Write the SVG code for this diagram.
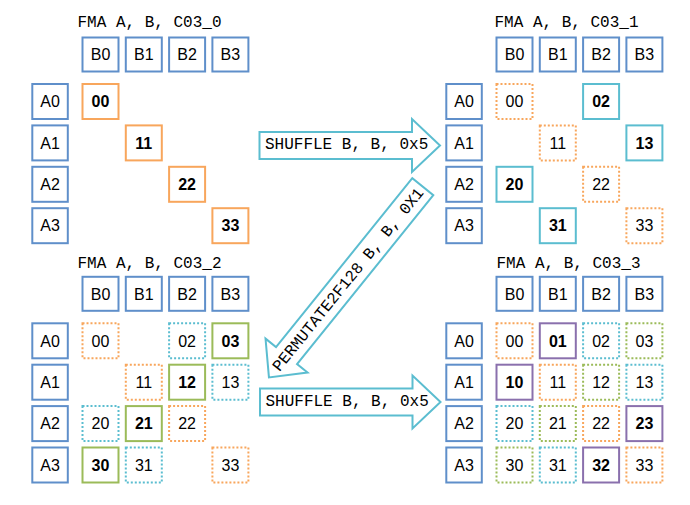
<svg xmlns="http://www.w3.org/2000/svg" width="690" height="505" viewBox="0 0 690 505">
<style>
rect{fill:#fff;stroke-width:2}
.h{stroke:#5f8fca}
.so{stroke:#f8a65c}
.do{stroke:#f8a65c;stroke-dasharray:2 2}
.sc{stroke:#5bbdd0}
.dc{stroke:#5bbdd0;stroke-dasharray:2 2}
.sg{stroke:#9bbb59}
.dg{stroke:#9bbb59;stroke-dasharray:2 2}
.sp{stroke:#8a70ad}
text{font-family:"Liberation Sans",Arial,sans-serif;font-size:16px;fill:#000;text-anchor:middle}
.b{font-weight:bold}
.m{font-family:"Liberation Mono","Courier New",monospace;font-size:16px;text-anchor:start}
.arr{fill:#fff;stroke:#5bbdd0;stroke-width:2;stroke-linejoin:miter}
</style>
<defs>
<path id="harrow" d="M0,-13.5 H152.5 V-26.5 L180.5,0 L152.5,26.5 V13.5 H0 Z"/>
</defs>

<g id="titles">
<text class="m" x="77.5" y="27.3">FMA A, B, C03_0</text>
<text class="m" x="494.5" y="27.3">FMA A, B, C03_1</text>
<text class="m" x="77.5" y="268.3">FMA A, B, C03_2</text>
<text class="m" x="496.5" y="268.3">FMA A, B, C03_3</text>
</g>

<g id="connectors">
<g id="shuffle1"><use href="#harrow" class="arr" transform="translate(259.5,145.5)"/><text class="m" x="265" y="149">SHUFFLE B, B, 0x5</text></g>
<g id="permute"><path class="arr" d="M0,-13.5 H217 V-27 L245,0 L217,27 V13.5 H0 Z" transform="translate(422.8,186.7) rotate(128.9)"/><text class="m" style="text-anchor:middle" transform="translate(348,279.5) rotate(-51.1)" x="0" y="5">PERMUTATE2F128 B, B, 0X1</text></g>
<g id="shuffle2"><use href="#harrow" class="arr" transform="translate(260,402)"/><text class="m" x="265.5" y="405.5">SHUFFLE B, B, 0x5</text></g>
</g>

<!-- Grid 0 -->
<g id="g0_B0"><rect class="h" x="82.5" y="37.5" width="36" height="34"/><text x="100.5" y="60.2">B0</text></g>
<g id="g0_B1"><rect class="h" x="125.8" y="37.5" width="36" height="34"/><text x="143.8" y="60.2">B1</text></g>
<g id="g0_B2"><rect class="h" x="169.1" y="37.5" width="36" height="34"/><text x="187.1" y="60.2">B2</text></g>
<g id="g0_B3"><rect class="h" x="212.4" y="37.5" width="36" height="34"/><text x="230.4" y="60.2">B3</text></g>
<g id="g0_A0"><rect class="h" x="32.3" y="84" width="35.5" height="35"/><text x="50" y="107.2">A0</text></g>
<g id="g0_A1"><rect class="h" x="32.3" y="125.4" width="35.5" height="35"/><text x="50" y="148.6">A1</text></g>
<g id="g0_A2"><rect class="h" x="32.3" y="166.8" width="35.5" height="35"/><text x="50" y="190">A2</text></g>
<g id="g0_A3"><rect class="h" x="32.3" y="208.2" width="35.5" height="35"/><text x="50" y="231.4">A3</text></g>
<g id="g0_00"><rect class="so" x="82.5" y="84" width="36" height="35"/><text class="b" x="100.5" y="107.2">00</text></g>
<g id="g0_11"><rect class="so" x="125.8" y="125.4" width="36" height="35"/><text class="b" x="143.8" y="148.6">11</text></g>
<g id="g0_22"><rect class="so" x="169.1" y="166.8" width="36" height="35"/><text class="b" x="187.1" y="190">22</text></g>
<g id="g0_33"><rect class="so" x="212.4" y="208.2" width="36" height="35"/><text class="b" x="230.4" y="231.4">33</text></g>

<!-- Grid 1 -->
<g id="g1_B0"><rect class="h" x="496.5" y="37.5" width="36" height="34"/><text x="514.5" y="60.2">B0</text></g>
<g id="g1_B1"><rect class="h" x="539.8" y="37.5" width="36" height="34"/><text x="557.8" y="60.2">B1</text></g>
<g id="g1_B2"><rect class="h" x="583.1" y="37.5" width="36" height="34"/><text x="601.1" y="60.2">B2</text></g>
<g id="g1_B3"><rect class="h" x="626.4" y="37.5" width="36" height="34"/><text x="644.4" y="60.2">B3</text></g>
<g id="g1_A0"><rect class="h" x="446.3" y="84" width="35.5" height="35"/><text x="464" y="107.2">A0</text></g>
<g id="g1_A1"><rect class="h" x="446.3" y="125.4" width="35.5" height="35"/><text x="464" y="148.6">A1</text></g>
<g id="g1_A2"><rect class="h" x="446.3" y="166.8" width="35.5" height="35"/><text x="464" y="190">A2</text></g>
<g id="g1_A3"><rect class="h" x="446.3" y="208.2" width="35.5" height="35"/><text x="464" y="231.4">A3</text></g>
<g id="g1_00"><rect class="do" x="496.5" y="84" width="36" height="35"/><text x="514.5" y="107.2">00</text></g>
<g id="g1_02"><rect class="sc" x="583.1" y="84" width="36" height="35"/><text class="b" x="601.1" y="107.2">02</text></g>
<g id="g1_11"><rect class="do" x="539.8" y="125.4" width="36" height="35"/><text x="557.8" y="148.6">11</text></g>
<g id="g1_13"><rect class="sc" x="626.4" y="125.4" width="36" height="35"/><text class="b" x="644.4" y="148.6">13</text></g>
<g id="g1_20"><rect class="sc" x="496.5" y="166.8" width="36" height="35"/><text class="b" x="514.5" y="190">20</text></g>
<g id="g1_22"><rect class="do" x="583.1" y="166.8" width="36" height="35"/><text x="601.1" y="190">22</text></g>
<g id="g1_31"><rect class="sc" x="539.8" y="208.2" width="36" height="35"/><text class="b" x="557.8" y="231.4">31</text></g>
<g id="g1_33"><rect class="do" x="626.4" y="208.2" width="36" height="35"/><text x="644.4" y="231.4">33</text></g>

<!-- Grid 2 -->
<g id="g2_B0"><rect class="h" x="82.5" y="276.8" width="36" height="34"/><text x="100.5" y="299.5">B0</text></g>
<g id="g2_B1"><rect class="h" x="125.8" y="276.8" width="36" height="34"/><text x="143.8" y="299.5">B1</text></g>
<g id="g2_B2"><rect class="h" x="169.1" y="276.8" width="36" height="34"/><text x="187.1" y="299.5">B2</text></g>
<g id="g2_B3"><rect class="h" x="212.4" y="276.8" width="36" height="34"/><text x="230.4" y="299.5">B3</text></g>
<g id="g2_A0"><rect class="h" x="32.3" y="323.3" width="35.5" height="35"/><text x="50" y="346.5">A0</text></g>
<g id="g2_A1"><rect class="h" x="32.3" y="364.7" width="35.5" height="35"/><text x="50" y="387.9">A1</text></g>
<g id="g2_A2"><rect class="h" x="32.3" y="406.1" width="35.5" height="35"/><text x="50" y="429.3">A2</text></g>
<g id="g2_A3"><rect class="h" x="32.3" y="447.5" width="35.5" height="35"/><text x="50" y="470.7">A3</text></g>
<g id="g2_00"><rect class="do" x="82.5" y="323.3" width="36" height="35"/><text x="100.5" y="346.5">00</text></g>
<g id="g2_02"><rect class="dc" x="169.1" y="323.3" width="36" height="35"/><text x="187.1" y="346.5">02</text></g>
<g id="g2_03"><rect class="sg" x="212.4" y="323.3" width="36" height="35"/><text class="b" x="230.4" y="346.5">03</text></g>
<g id="g2_11"><rect class="do" x="125.8" y="364.7" width="36" height="35"/><text x="143.8" y="387.9">11</text></g>
<g id="g2_12"><rect class="sg" x="169.1" y="364.7" width="36" height="35"/><text class="b" x="187.1" y="387.9">12</text></g>
<g id="g2_13"><rect class="dc" x="212.4" y="364.7" width="36" height="35"/><text x="230.4" y="387.9">13</text></g>
<g id="g2_20"><rect class="dc" x="82.5" y="406.1" width="36" height="35"/><text x="100.5" y="429.3">20</text></g>
<g id="g2_21"><rect class="sg" x="125.8" y="406.1" width="36" height="35"/><text class="b" x="143.8" y="429.3">21</text></g>
<g id="g2_22"><rect class="do" x="169.1" y="406.1" width="36" height="35"/><text x="187.1" y="429.3">22</text></g>
<g id="g2_30"><rect class="sg" x="82.5" y="447.5" width="36" height="35"/><text class="b" x="100.5" y="470.7">30</text></g>
<g id="g2_31"><rect class="dc" x="125.8" y="447.5" width="36" height="35"/><text x="143.8" y="470.7">31</text></g>
<g id="g2_33"><rect class="do" x="212.4" y="447.5" width="36" height="35"/><text x="230.4" y="470.7">33</text></g>

<!-- Grid 3 -->
<g id="g3_B0"><rect class="h" x="496.5" y="276.8" width="36" height="34"/><text x="514.5" y="299.5">B0</text></g>
<g id="g3_B1"><rect class="h" x="539.8" y="276.8" width="36" height="34"/><text x="557.8" y="299.5">B1</text></g>
<g id="g3_B2"><rect class="h" x="583.1" y="276.8" width="36" height="34"/><text x="601.1" y="299.5">B2</text></g>
<g id="g3_B3"><rect class="h" x="626.4" y="276.8" width="36" height="34"/><text x="644.4" y="299.5">B3</text></g>
<g id="g3_A0"><rect class="h" x="446.3" y="323.3" width="35.5" height="35"/><text x="464" y="346.5">A0</text></g>
<g id="g3_A1"><rect class="h" x="446.3" y="364.7" width="35.5" height="35"/><text x="464" y="387.9">A1</text></g>
<g id="g3_A2"><rect class="h" x="446.3" y="406.1" width="35.5" height="35"/><text x="464" y="429.3">A2</text></g>
<g id="g3_A3"><rect class="h" x="446.3" y="447.5" width="35.5" height="35"/><text x="464" y="470.7">A3</text></g>
<g id="g3_00"><rect class="do" x="496.5" y="323.3" width="36" height="35"/><text x="514.5" y="346.5">00</text></g>
<g id="g3_01"><rect class="sp" x="539.8" y="323.3" width="36" height="35"/><text class="b" x="557.8" y="346.5">01</text></g>
<g id="g3_02"><rect class="dc" x="583.1" y="323.3" width="36" height="35"/><text x="601.1" y="346.5">02</text></g>
<g id="g3_03"><rect class="dg" x="626.4" y="323.3" width="36" height="35"/><text x="644.4" y="346.5">03</text></g>
<g id="g3_10"><rect class="sp" x="496.5" y="364.7" width="36" height="35"/><text class="b" x="514.5" y="387.9">10</text></g>
<g id="g3_11"><rect class="do" x="539.8" y="364.7" width="36" height="35"/><text x="557.8" y="387.9">11</text></g>
<g id="g3_12"><rect class="dg" x="583.1" y="364.7" width="36" height="35"/><text x="601.1" y="387.9">12</text></g>
<g id="g3_13"><rect class="dc" x="626.4" y="364.7" width="36" height="35"/><text x="644.4" y="387.9">13</text></g>
<g id="g3_20"><rect class="dc" x="496.5" y="406.1" width="36" height="35"/><text x="514.5" y="429.3">20</text></g>
<g id="g3_21"><rect class="dg" x="539.8" y="406.1" width="36" height="35"/><text x="557.8" y="429.3">21</text></g>
<g id="g3_22"><rect class="do" x="583.1" y="406.1" width="36" height="35"/><text x="601.1" y="429.3">22</text></g>
<g id="g3_23"><rect class="sp" x="626.4" y="406.1" width="36" height="35"/><text class="b" x="644.4" y="429.3">23</text></g>
<g id="g3_30"><rect class="dg" x="496.5" y="447.5" width="36" height="35"/><text x="514.5" y="470.7">30</text></g>
<g id="g3_31"><rect class="dc" x="539.8" y="447.5" width="36" height="35"/><text x="557.8" y="470.7">31</text></g>
<g id="g3_32"><rect class="sp" x="583.1" y="447.5" width="36" height="35"/><text class="b" x="601.1" y="470.7">32</text></g>
<g id="g3_33"><rect class="do" x="626.4" y="447.5" width="36" height="35"/><text x="644.4" y="470.7">33</text></g>
</svg>
